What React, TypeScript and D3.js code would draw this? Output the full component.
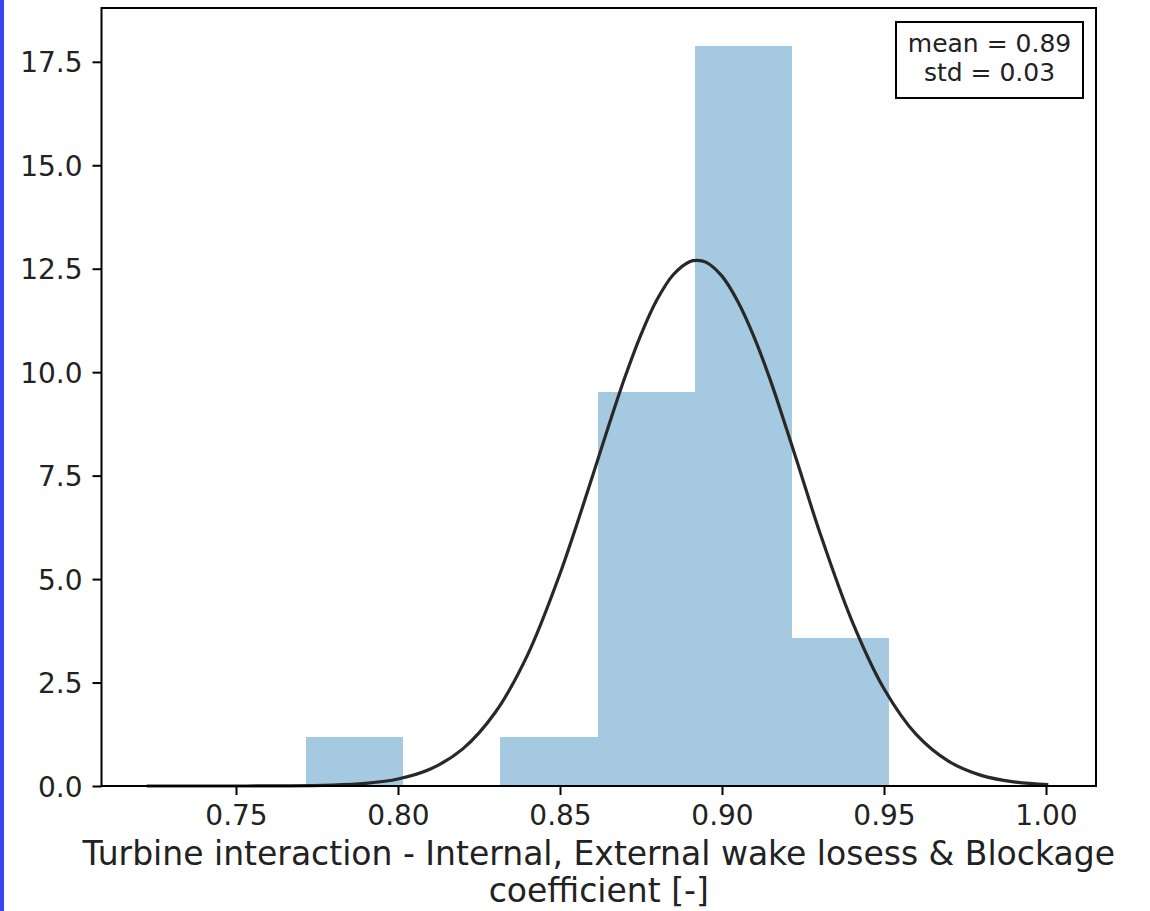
import React, { useEffect, useRef } from 'react';
import * as d3 from 'd3';

// histogram bin edges and density heights
const binEdges = [0.7716, 0.8016, 0.8316, 0.8616, 0.8916, 0.9215, 0.9515];
const binDensity = [1.19, 0, 1.19, 9.53, 17.87, 3.57];

// fitted normal curve
const fitX = [0.7224, 0.74, 0.76, 0.78, 0.79, 0.80, 0.81, 0.82, 0.83, 0.84, 0.85, 0.86, 0.865, 0.87, 0.875, 0.88, 0.885, 0.89, 0.8923, 0.895, 0.90, 0.905, 0.91, 0.915, 0.92, 0.925, 0.93, 0.94, 0.95, 0.96, 0.97, 0.98, 0.99, 1.0007];
const fitY = [0, 0.0001, 0.002, 0.021, 0.063, 0.169, 0.409, 0.897, 1.775, 3.17, 5.13, 7.48, 8.70, 9.87, 10.91, 11.76, 12.36, 12.67, 12.70, 12.66, 12.32, 11.69, 10.83, 9.79, 8.61, 7.39, 6.17, 4.01, 2.35, 1.24, 0.595, 0.257, 0.100, 0.033];

const xTicks = [0.75, 0.80, 0.85, 0.90, 0.95, 1.00];
const yTicks = [0, 2.5, 5, 7.5, 10, 12.5, 15, 17.5];
const statLines = ['mean = 0.89', 'std = 0.03'];
const xLabelLines = ['Turbine interaction - Internal, External wake losess & Blockage', 'coefficient [-]'];

const W = 1150;
const H = 911;

const App: React.FC = () => {
  const svgRef = useRef<SVGSVGElement>(null);

  useEffect(() => {
    if (!svgRef.current) return;
    const svg = d3.select(svgRef.current);
    svg.selectAll('*').remove();

    const left = 101.5, right = 1096, top = 8, bottom = 786;
    const font = 'DejaVu Sans, sans-serif';

    const x = d3.scaleLinear().domain([0.70849, 1.01543]).range([left, right]);
    const y = d3.scaleLinear().domain([0, 18.8]).range([bottom, top]);

    // white page + blue strip on the left edge
    svg.append('rect').attr('width', W).attr('height', H).attr('fill', '#fff');
    svg.append('rect').attr('x', 0).attr('y', 0).attr('width', 4).attr('height', H).attr('fill', '#3a43f0');

    // bars
    svg.append('g')
      .attr('shape-rendering', 'crispEdges')
      .selectAll('rect')
      .data(binDensity)
      .enter()
      .append('rect')
      .attr('x', (d, i) => x(binEdges[i]))
      .attr('width', (d, i) => x(binEdges[i + 1]) - x(binEdges[i]))
      .attr('y', d => y(d))
      .attr('height', d => y(0) - y(d))
      .attr('fill', '#1f77b4')
      .attr('fill-opacity', 0.4);

    // fit curve
    const line = d3.line<number>()
      .x((d, i) => x(fitX[i]))
      .y(d => y(d))
      .curve(d3.curveCatmullRom);
    svg.append('path')
      .attr('d', line(fitY) || '')
      .attr('fill', 'none')
      .attr('stroke', '#282828')
      .attr('stroke-width', 3.2);

    // x axis
    const xAxis = svg.append('g')
      .attr('transform', `translate(0, ${bottom})`)
      .call(d3.axisBottom(x).tickValues(xTicks).tickFormat(d3.format('.2f')).tickSize(9).tickSizeOuter(0));
    xAxis.select('.domain').remove();
    xAxis.selectAll('.tick line').attr('stroke', '#000').attr('stroke-width', 2);
    xAxis.selectAll('.tick text')
      .attr('y', 39)
      .attr('dy', 0)
      .style('font-family', font)
      .style('font-size', '28px')
      .style('fill', '#222');

    // y axis
    const yAxis = svg.append('g')
      .attr('transform', `translate(${left}, 0)`)
      .call(d3.axisLeft(y).tickValues(yTicks).tickFormat(d3.format('.1f')).tickSize(9).tickSizeOuter(0));
    yAxis.select('.domain').remove();
    yAxis.selectAll('.tick line').attr('stroke', '#000').attr('stroke-width', 2);
    yAxis.selectAll('.tick text')
      .attr('x', -19)
      .attr('dy', '0.36em')
      .style('font-family', font)
      .style('font-size', '28px')
      .style('fill', '#222');

    // frame
    svg.append('rect')
      .attr('x', left)
      .attr('y', top)
      .attr('width', right - left)
      .attr('height', bottom - top)
      .attr('fill', 'none')
      .attr('stroke', '#000')
      .attr('stroke-width', 2);

    // stats box
    const box = svg.append('g');
    box.append('rect')
      .attr('x', 896)
      .attr('y', 22)
      .attr('width', 187)
      .attr('height', 76)
      .attr('fill', '#fff')
      .attr('stroke', '#000')
      .attr('stroke-width', 2);
    box.selectAll('text')
      .data(statLines)
      .enter()
      .append('text')
      .attr('x', 989.5)
      .attr('y', (d, i) => 52 + i * 29)
      .attr('text-anchor', 'middle')
      .style('font-family', font)
      .style('font-size', '25px')
      .style('fill', '#222')
      .text(d => d);

    // x label
    svg.selectAll('text.xlabel')
      .data(xLabelLines)
      .enter()
      .append('text')
      .attr('class', 'xlabel')
      .attr('x', (left + right) / 2)
      .attr('y', (d, i) => 865 + i * 37)
      .attr('text-anchor', 'middle')
      .style('font-family', font)
      .style('font-size', '33px')
      .style('fill', '#222')
      .text(d => d);
  }, []);

  return (
    <svg
      ref={svgRef}
      width={W}
      height={H}
      style={{ position: 'absolute', left: 0, top: 0, display: 'block' }}
    />
  );
};

export default App;
